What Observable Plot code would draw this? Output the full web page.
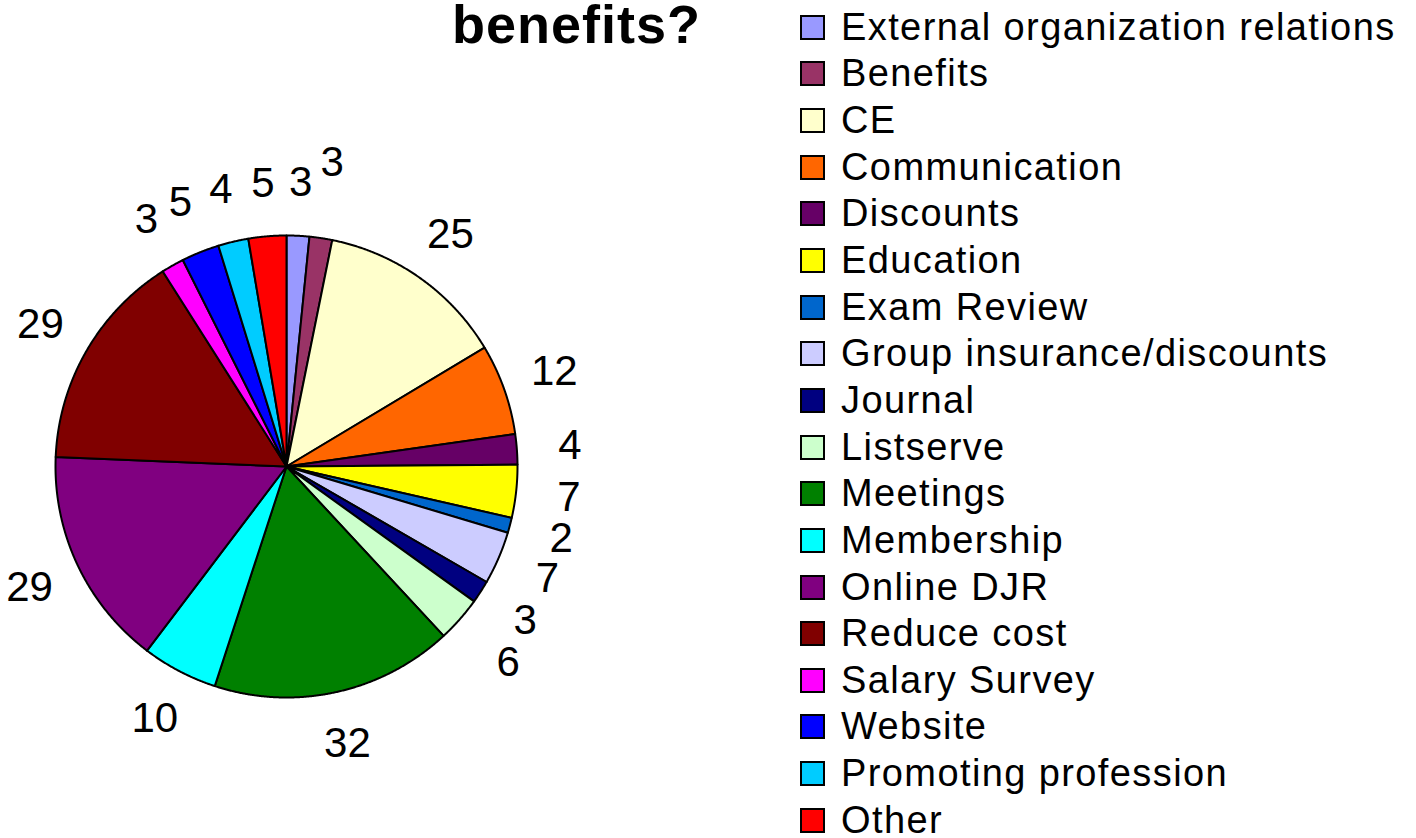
<!DOCTYPE html>
<html><head><meta charset="utf-8">
<script src="https://cdn.jsdelivr.net/npm/d3@7"></script>
<script src="https://cdn.jsdelivr.net/npm/@observablehq/plot@0.6"></script>
<style>
body{margin:0;background:#fff;font-family:Arial,"Liberation Sans",sans-serif}
#wrap{position:relative;width:1416px;height:838px;overflow:hidden;background:#fff}
#chart{position:absolute;left:0;top:0}
#title{position:absolute;left:452px;top:-4px;font-weight:bold;font-size:54px;line-height:56px;letter-spacing:1px;white-space:nowrap}
#legend{position:absolute;left:800px;top:4px}
.row{display:flex;align-items:center;height:46.65px;font-size:38px;letter-spacing:1.4px;white-space:nowrap}
.sw{width:21px;height:21px;border:2px solid #000;margin-right:16px;flex:none}
</style></head>
<body>
<div id="wrap">
  <div id="chart"></div>
  <div id="title">benefits?</div>
  <div id="legend"></div>
</div>
<script>
const categories = ["External organization relations","Benefits","CE","Communication","Discounts","Education","Exam Review","Group insurance/discounts","Journal","Listserve","Meetings","Membership","Online DJR","Reduce cost","Salary Survey","Website","Promoting profession","Other"];
const values = [3,3,25,12,4,7,2,7,3,6,32,10,29,29,3,5,4,5];
const colors = ["#9999FF","#993366","#FFFFCC","#FF6600","#660066","#FFFF00","#0066CC","#CCCCFF","#000080","#CCFFCC","#008000","#00FFFF","#800080","#800000","#FF00FF","#0000FF","#00CCFF","#FF0000"];

// layout
const W = 1416, H = 838, cx = 286, cy = 466, R = 231;
const labelFont = 42;

const total = d3.sum(values);
let acc = 0;
const slices = categories.map((c, i) => {
  const a0 = acc / total * 2 * Math.PI; acc += values[i];
  const a1 = acc / total * 2 * Math.PI;
  return {category: c, value: values[i], color: colors[i], a0, a1};
});
const pt = (a, r) => [r * Math.sin(a), -r * Math.cos(a)];
const features = slices.map(s => {
  const n = Math.max(2, Math.ceil((s.a1 - s.a0) / 0.004));
  const ring = [[0, 0]];
  for (let k = 0; k <= n; k++) ring.push(pt(s.a0 + (s.a1 - s.a0) * k / n, 1));
  ring.push([0, 0]);
  return {type: "Feature", properties: s, geometry: {type: "Polygon", coordinates: [ring]}};
});

// label placement with simple collision avoidance (outward push)
const placed = [];
const labels = slices.map(s => {
  const t = String(s.value);
  const w = 0.556 * labelFont * t.length / R, h = 0.75 * labelFont / R;
  const mid = (s.a0 + s.a1) / 2;
  let r = 1.23, p;
  for (let it = 0; it < 40; it++) {
    p = pt(mid, r);
    const hit = placed.some(q => Math.abs(q.x - p[0]) < (q.w + w) / 2 + 0.03 && Math.abs(q.y - p[1]) < (q.h + h) / 2 + 0.03);
    if (!hit) break;
    r += 0.05;
  }
  const o = {x: p[0], y: p[1], w, h, text: t};
  placed.push(o);
  return o;
});

const domain = {type: "MultiPoint", coordinates: [[-cx / R, -cy / R], [(W - cx) / R, (H - cy) / R]]};
const chart = Plot.plot({
  width: W, height: H, margin: 0,
  projection: {type: "identity", domain},
  color: {type: "identity"},
  style: {background: "transparent", fontFamily: "Arial, 'Liberation Sans', sans-serif"},
  marks: [
    Plot.geo(features, {fill: d => d.properties.color, stroke: "black", strokeWidth: 2, strokeLinejoin: "round"}),
    Plot.text(labels, {x: "x", y: "y", text: "text", fontSize: labelFont, fill: "black", textAnchor: "middle"})
  ]
});
document.getElementById("chart").append(chart);

const legend = document.getElementById("legend");
categories.forEach((c, i) => {
  const row = document.createElement("div"); row.className = "row";
  const sw = document.createElement("div"); sw.className = "sw"; sw.style.background = colors[i];
  const tx = document.createElement("span"); tx.textContent = c;
  row.append(sw, tx); legend.append(row);
});
</script>
</body></html>
